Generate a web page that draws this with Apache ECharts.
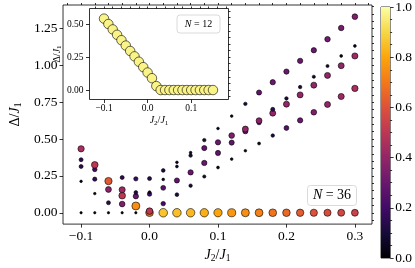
<!DOCTYPE html>
<html><head><meta charset="utf-8">
<script src="https://cdn.jsdelivr.net/npm/echarts@6/dist/echarts.min.js"></script>
<style>html,body{margin:0;padding:0;background:#fff}#c{width:415px;height:268px}</style>
</head><body><div id="c"></div>
<script>
// ---- N = 36 data: one column per J2/J1 value, gaps and colour weights ----
const jRatio36 = [-0.1,-0.08,-0.06,-0.04,-0.02,0,0.02,0.04,0.06,0.08,0.1,0.12,0.14,0.16,0.18,0.2,0.22,0.24,0.26,0.28,0.3];
const gaps36 = [
  [0,0.213,0.314,0.36,0.434],
  [0,0.13,0.228,0.294,0.325],
  [0,0.068,0.158,0.215],
  [0,0.059,0.116,0.156,0.239],
  [0,0.046,0.112,0.138,0.23],
  [0,0.011,0.127,0.14,0.232],
  [0,0.062,0.169,0.226,0.287],
  [0,0.123,0.219,0.314,0.342],
  [0,0.184,0.274,0.388,0.408],
  [0,0.246,0.338,0.439,0.493],
  [0,0.307,0.406,0.478,0.572],
  [0,0.364,0.476,0.524,0.656],
  [0,0.421,0.553,0.568,0.739],
  [0,0.47,0.612,0.625,0.816],
  [0,0.524,0.676,0.702,0.886],
  [0,0.575,0.737,0.776,0.958],
  [0,0.627,0.80,0.853,1.031],
  [0,0.682,0.866,0.923,1.103],
  [0,0.735,0.932,0.996,1.178],
  [0,0.789,0.998,1.064,1.254],
  [0,0.844,1.064,1.132,1.331]
];
const weights36 = [
  [0.02,0.03,0.15,0.15,0.45],
  [0.02,0.03,0.17,0.2,0.5],
  [0.02,0.15,0.38,0.62],
  [0.02,0.35,0.5,0.42,0.15],
  [0.02,0.75,0.3,0.12,0.18],
  [0.68,0.5,0.2,0.05,0.15],
  [0.86,0.2,0.25,0.04,0.12],
  [0.85,0.12,0.28,0.05,0.04],
  [0.84,0.1,0.3,0.1,0.04],
  [0.82,0.08,0.3,0.28,0.1],
  [0.8,0.05,0.28,0.3,0.04],
  [0.77,0.04,0.28,0.35,0.04],
  [0.75,0.04,0.28,0.4,0.1],
  [0.72,0.06,0.2,0.38,0.28],
  [0.69,0.1,0.4,0.15,0.3],
  [0.66,0.25,0.4,0.1,0.3],
  [0.63,0.3,0.4,0.1,0.3],
  [0.6,0.35,0.4,0.08,0.3],
  [0.58,0.4,0.4,0.07,0.32],
  [0.56,0.42,0.4,0.05,0.33],
  [0.54,0.45,0.42,0.05,0.35]
];
// ---- N = 12 inset data ----
const jRatio12 = [-0.1,-0.09,-0.08,-0.07,-0.06,-0.05,-0.04,-0.03,-0.02,-0.01,0,0.01,0.02,0.03,0.04,0.05,0.06,0.07,0.08,0.09,0.1,0.11,0.12,0.13,0.14,0.15];
const gaps12 = [0.543,0.502,0.461,0.420,0.379,0.338,0.297,0.256,0.215,0.174,0.133,0.09,0.03,0,0,0,0,0,0,0,0,0,0,0,0,0];
const weights12 = [0.97,0.97,0.97,0.97,0.97,0.97,0.97,0.97,0.97,0.97,0.97,0.97,0.97,0.97,0.97,0.97,0.97,0.97,0.97,0.97,0.97,0.97,0.97,0.97,0.97,0.97];
// ---- tick values ----
const mainXTicks = [-0.1,0,0.1,0.2,0.3];
const mainXMinor = [-0.12,-0.1,-0.08,-0.06,-0.04,-0.02,0,0.02,0.04,0.06,0.08,0.1,0.12,0.14,0.16,0.18,0.2,0.22,0.24,0.26,0.28,0.3,0.32];
const mainYTicks = [0,0.25,0.5,0.75,1,1.25];
const mainYMinor = [-0.05,0,0.05,0.1,0.15,0.2,0.25,0.3,0.35,0.4,0.45,0.5,0.55,0.6,0.65,0.7,0.75,0.8,0.85,0.9,0.95,1,1.05,1.1,1.15,1.2,1.25,1.3,1.35,1.4];
const insetXTicks = [-0.1,0,0.1];
const insetXMinor = [-0.12,-0.1,-0.08,-0.06,-0.04,-0.02,0,0.02,0.04,0.06,0.08,0.1,0.12,0.14,0.16,0.18];
const insetYTicks = [0,0.25,0.5];
const insetYMinor = [-0.05,0,0.05,0.1,0.15,0.2,0.25,0.3,0.35,0.4,0.45,0.5,0.55,0.6];
const cbarTicks = [0,0.2,0.4,0.6,0.8,1];

const inferno = ['#000004','#160b39','#420a68','#6a176e','#932667','#bc3754','#dd513a','#f37819','#fca50a','#f6d746','#fcffa4'];
const FF = 'Liberation Serif';

const mainData = [];
jRatio36.forEach((x, i) => gaps36[i].forEach((g, k) => mainData.push([x, g, weights36[i][k]])));
const insetData = jRatio12.map((x, i) => [x, gaps12[i], weights12[i]]);

const fmt = d => v => (v < 0 ? '\u2212' : '') + Math.abs(v).toFixed(d);
const tickStyle = {color: '#000', width: 0.8};

function majorAxis(grid, min, max, vals, d, fs, margin, extra) {
  return Object.assign({
    type: 'value', gridIndex: grid, min: min, max: max,
    axisLine: {show: false, onZero: false},
    splitLine: {show: false},
    axisTick: {show: true, inside: false, length: 3.5, lineStyle: tickStyle, customValues: vals},
    axisLabel: {show: true, customValues: vals, formatter: fmt(d), fontFamily: FF, fontSize: fs, color: '#000', margin: margin}
  }, extra || {});
}
function minorAxis(grid, min, max, vals) {
  return {
    type: 'value', gridIndex: grid, min: min, max: max,
    axisLine: {show: false, onZero: false}, splitLine: {show: false},
    axisTick: {show: true, inside: false, length: 2, lineStyle: tickStyle, customValues: vals},
    axisLabel: {show: false}
  };
}
const richMain = {
  i: {fontFamily: FF, fontStyle: 'italic', fontSize: 14, lineHeight: 16, color: '#000'},
  n: {fontFamily: FF, fontSize: 14, lineHeight: 16, color: '#000'},
  s: {fontFamily: FF, fontSize: 9.5, lineHeight: 10, verticalAlign: 'bottom', color: '#000'}
};
const richInset = {
  i: {fontFamily: FF, fontStyle: 'italic', fontSize: 10, lineHeight: 12, color: '#000'},
  n: {fontFamily: FF, fontSize: 10, lineHeight: 12, color: '#000'},
  s: {fontFamily: FF, fontSize: 7, lineHeight: 8, verticalAlign: 'bottom', color: '#000'}
};

const chart = echarts.init(document.getElementById('c'), null, {renderer: 'canvas'});
chart.setOption({
  animation: false,
  backgroundColor: '#fff',
  grid: [
    {left: 47, top: 5, width: 325, height: 226, show: true, borderColor: '#000', borderWidth: 0.8, backgroundColor: 'transparent'},
    {left: 89.5, top: 8.5, width: 139, height: 91, show: true, borderColor: '#000', borderWidth: 0.8, backgroundColor: '#fff'},
    {left: 381, top: 5, width: 12, height: 253, show: true, borderColor: '#000', borderWidth: 0.8, backgroundColor: 'transparent'}
  ],
  xAxis: [
    majorAxis(0, -0.12639, 0.325, mainXTicks, 1, 13.5, 5, {
      name: '{i|J}{s|2}{n|/}{i|J}{s|1}', nameLocation: 'middle', nameGap: 17,
      nameTextStyle: {rich: richMain}
    }),
    minorAxis(0, -0.12639, 0.325, mainXMinor),
    majorAxis(1, -0.1333, 0.1856, insetXTicks, 1, 9.5, 4, {
      name: '{i|J}{s|2}{n|/}{i|J}{s|1}', nameLocation: 'middle', nameGap: 15,
      nameTextStyle: {rich: richInset}
    }),
    minorAxis(1, -0.1333, 0.1856, insetXMinor),
    {type: 'category', gridIndex: 2, data: ['c'], show: false}
  ],
  yAxis: [
    majorAxis(0, -0.077, 1.41, mainYTicks, 2, 13.5, 5.5, {
      name: '{n|\u0394/}{i|J}{s|1}', nameLocation: 'middle', nameGap: 32, nameRotate: 90,
      nameTextStyle: {rich: richMain}
    }),
    minorAxis(0, -0.077, 1.41, mainYMinor),
    majorAxis(1, -0.072, 0.62, insetYTicks, 2, 9.5, 6, {
      name: '{n|\u0394/}{i|J}{s|1}', nameLocation: 'middle', nameGap: 25, nameRotate: 90,
      nameTextStyle: {rich: richInset}
    }),
    minorAxis(1, -0.072, 0.62, insetYMinor),
    {
      type: 'value', gridIndex: 2, min: 0, max: 1, interval: 0.2, position: 'right',
      axisLine: {show: false, onZero: false}, splitLine: {show: false},
      axisTick: {show: true, inside: false, length: 3.5, lineStyle: tickStyle},
      minorTick: {show: true, splitNumber: 4, length: 2, lineStyle: tickStyle},
      axisLabel: {formatter: v => v.toFixed(1), fontFamily: FF, fontSize: 13.5, color: '#000', margin: 5}
    }
  ],
  visualMap: {
    type: 'continuous', show: false, min: 0, max: 1, dimension: 2, seriesIndex: [0, 1],
    inRange: {color: inferno}
  },
  series: [
    {
      type: 'scatter', xAxisIndex: 0, yAxisIndex: 0, data: mainData,
      symbolSize: v => Math.sqrt(4 + 80 * v[2]),
      itemStyle: {borderColor: '#000', borderWidth: 0.6, opacity: 1},
      emphasis: {disabled: true}, silent: true
    },
    {
      type: 'scatter', xAxisIndex: 2, yAxisIndex: 2, data: insetData,
      symbolSize: 9.5,
      itemStyle: {borderColor: '#000', borderWidth: 0.6, opacity: 1},
      emphasis: {disabled: true}, silent: true, z: 5
    },
    {
      type: 'bar', xAxisIndex: 4, yAxisIndex: 4, data: [1], barWidth: '100%', silent: true,
      itemStyle: {
        color: {type: 'linear', x: 0, y: 1, x2: 0, y2: 0,
          colorStops: inferno.map((c, i) => ({offset: i / (inferno.length - 1), color: c}))}
      }
    }
  ],
  graphic: [
    {type: 'rect', z: 100, shape: {x: 177, y: 15, width: 43, height: 18, r: 3},
      style: {fill: 'rgba(255,255,255,0.8)', stroke: '#d0d0d0', lineWidth: 0.8}},
    {type: 'text', z: 101, x: 198.5, y: 24.5,
      style: {text: '{i|N}{n| = 12}', rich: richInset, align: 'center', verticalAlign: 'middle'}},
    {type: 'rect', z: 100, shape: {x: 307.5, y: 185.5, width: 49, height: 20, r: 3},
      style: {fill: 'rgba(255,255,255,0.8)', stroke: '#d0d0d0', lineWidth: 0.8}},
    {type: 'text', z: 101, x: 332, y: 195.5,
      style: {text: '{i|N}{n| = 36}', rich: richMain, align: 'center', verticalAlign: 'middle'}}
  ]
});
</script>
</body></html>
